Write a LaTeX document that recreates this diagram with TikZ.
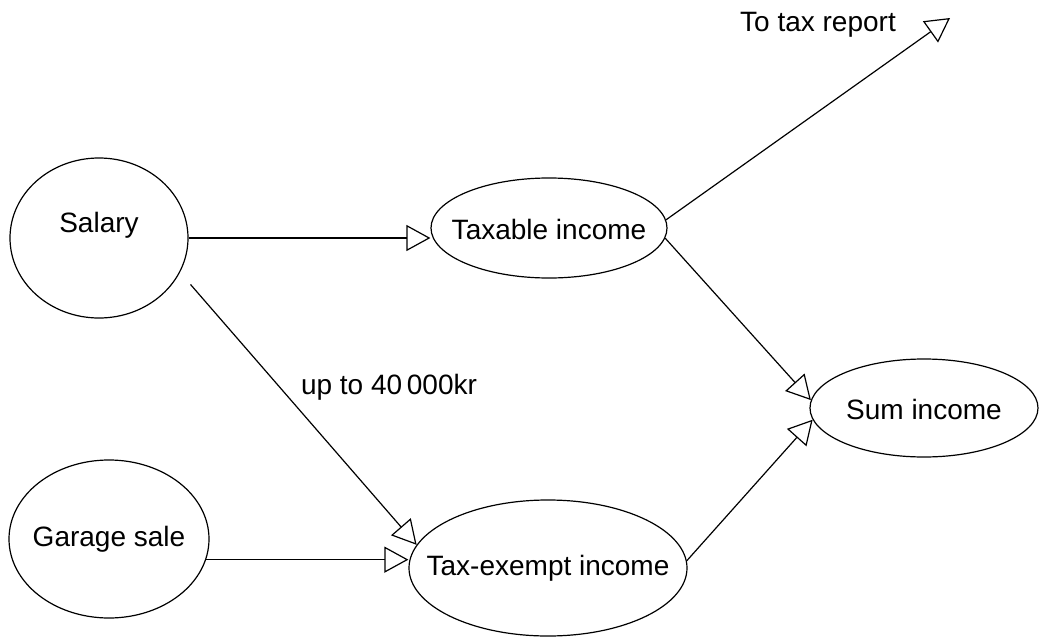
\documentclass[tikz,border=0pt]{standalone}
\usepackage{fontspec}
\setmainfont{Liberation Sans}
\usetikzlibrary{shapes.geometric,arrows.meta}
\begin{document}
\begin{tikzpicture}[x=1pt,y=-1pt,
  every node/.style={font=\fontsize{28}{33}\selectfont},
  oval/.style={ellipse,draw,line width=1.2pt,inner sep=0pt},
  flow/.style={draw,line width=1.2pt,-{Triangle[open,length=24pt,width=26pt,line width=1.2pt]}}]
\useasboundingbox (0,0) rectangle (1039,637);
\node[oval,minimum width=178pt,minimum height=160pt,label={[yshift=13pt]center:Salary}] (salary) at (99,238) {};
\node[oval,minimum width=200pt,minimum height=158pt,label={center:Garage sale}] (garage) at (109,539) {};
\node[oval,minimum width=236pt,minimum height=100pt,label={[yshift=-1pt]center:Taxable income}] (taxable) at (549,228) {};
\node[oval,minimum width=278pt,minimum height=136pt,label={center:Tax-exempt income}] (taxexempt) at (548,568) {};
\node[oval,minimum width=228pt,minimum height=98pt,label={[yshift=-1pt]center:Sum income}] (sum) at (924,408) {};
\node (reportlabel) at (818,25) {To tax report};
\coordinate (report) at (950,18);
\node (limit) at (389,387) {up to 40\,000kr};
\draw[flow] (salary.east) -- (salary.east -| taxable.west);
\draw[flow,shorten <=16pt] (salary.-23) -- (taxexempt.170);
\draw[flow] (garage.-12) -- (garage.-12 -| taxexempt.west);
\draw[flow] (taxable.4) -- (report);
\draw[flow] (taxable.-5) -- (sum.176);
\draw[flow] (taxexempt.3) -- (sum.186);
\end{tikzpicture}
\end{document}
